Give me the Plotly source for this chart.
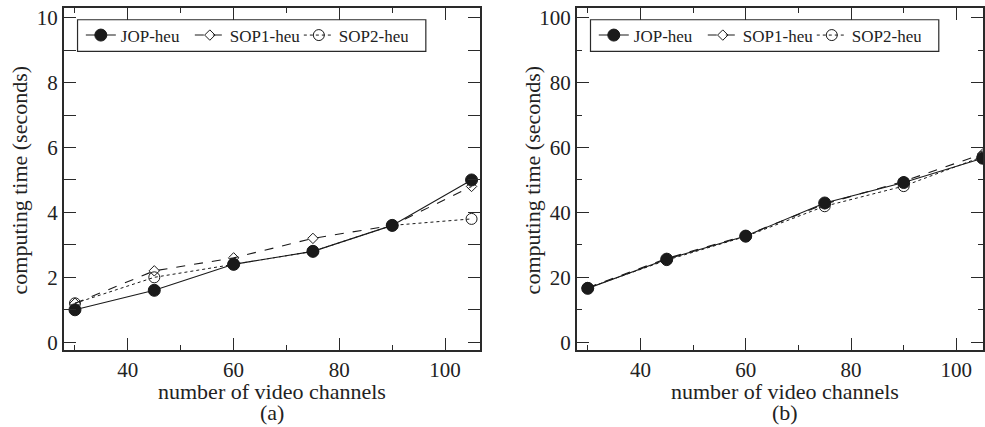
import plotly.graph_objects as go

channels = [30, 45, 60, 75, 90, 105]

# panel (a) computing time (seconds)
a_jop = [1.0, 1.6, 2.4, 2.8, 3.6, 5.0]
a_sop1 = [1.2, 2.2, 2.6, 3.2, 3.6, 4.8]
a_sop2 = [1.2, 2.0, 2.4, 2.8, 3.6, 3.8]

# panel (b)
b_jop = [16.6, 25.6, 32.7, 42.9, 49.2, 56.7]
b_sop1 = [16.8, 25.8, 32.9, 42.6, 49.6, 58.0]
b_sop2 = [16.7, 25.3, 32.6, 41.9, 48.1, 57.2]

series_names = ["JOP-heu", "SOP1-heu", "SOP2-heu"]

FONT = "Liberation Serif, Times New Roman, serif"
INK = "#1a1a1a"
FRAME = "#2a2a2a"
W, H = 985.0, 427.0

styles = [
    dict(line=dict(color=INK, width=1.1, dash="solid"),
         marker=dict(symbol="circle", size=12, color=INK, line=dict(color=INK, width=1))),
    dict(line=dict(color=INK, width=1.1, dash="dash"),
         marker=dict(symbol="diamond-open", size=8, color=INK, line=dict(color=INK, width=1))),
    dict(line=dict(color=INK, width=1.0, dash="dot"),
         marker=dict(symbol="circle-open", size=11, color=INK, line=dict(color=INK, width=1))),
]

fig = go.Figure()

for panel, data, xa, ya, lg in [
    ("a", [a_jop, a_sop1, a_sop2], "x", "y", "legend"),
    ("b", [b_jop, b_sop1, b_sop2], "x2", "y2", "legend2"),
]:
    for idx in [2, 1, 0]:
        fig.add_trace(go.Scatter(
            x=channels, y=data[idx], name=series_names[idx], mode="lines+markers",
            xaxis=xa, yaxis=ya, legend=lg, legendrank=idx + 1,
            line=styles[idx]["line"], marker=styles[idx]["marker"],
            cliponaxis=(panel == "b"),
        ))

y_dom = [(H - 353) / H, (H - 6) / H]

common_x = dict(
    showline=True, linecolor=FRAME, linewidth=1.6, mirror="ticks",
    ticks="inside", ticklen=12, tickwidth=1.2, tickcolor=FRAME,
    tick0=40, dtick=20, showgrid=False, zeroline=False,
    tickfont=dict(family=FONT, size=21, color="#222"),
    minor=dict(ticks="inside", ticklen=5, tickwidth=1.2, tickcolor=FRAME, tick0=30, dtick=10, showgrid=False),
)
common_y = dict(
    showline=True, linecolor=FRAME, linewidth=1.6, mirror="ticks",
    ticks="inside", ticklen=12, tickwidth=1.2, tickcolor=FRAME,
    showgrid=False, zeroline=False,
    tickfont=dict(family=FONT, size=21, color="#222"),
)

legend_common = dict(orientation="h", xanchor="left", yanchor="middle",
                     bgcolor="rgba(0,0,0,0)", borderwidth=0,
                     font=dict(family=FONT, size=17, color="#222"), traceorder="normal",
                     entrywidth=64, itemwidth=30)

fig.update_layout(
    width=985, height=427,
    margin=dict(l=0, r=0, t=0, b=0),
    paper_bgcolor="white", plot_bgcolor="white",
    showlegend=True,
    xaxis=dict(domain=[64 / W, 481 / W], range=[27.9, 106.6], anchor="y", **common_x),
    yaxis=dict(domain=y_dom, range=[-0.24, 10.3], anchor="x", tick0=0, dtick=2,
               minor=dict(ticks="inside", ticklen=12, tickwidth=1.2, tickcolor=FRAME, dtick=1, showgrid=False),
               **common_y),
    xaxis2=dict(domain=[578 / W, 1.0], range=[27.93, 105.06], anchor="y2", **common_x),
    yaxis2=dict(domain=y_dom, range=[-2.4, 103], anchor="x2", tick0=0, dtick=20,
                minor=dict(ticks="inside", ticklen=5, tickwidth=1.2, tickcolor=FRAME, dtick=10, showgrid=False),
                **common_y),
    legend=dict(x=81 / W, y=(H - 34) / H, **legend_common),
    legend2=dict(x=595 / W, y=(H - 34) / H, **legend_common),
)

# legend frames
for x0, x1 in [(77.7, 426.7), (591.7, 940.7)]:
    fig.add_shape(type="rect", xref="paper", yref="paper",
                  x0=x0 / W, x1=x1 / W, y0=(H - 50) / H, y1=(H - 18) / H,
                  line=dict(color=FRAME, width=1.2), fillcolor="white", layer="below")

ann_font = dict(family=FONT, size=22, color="#222")
for cx, label in [((64 + 481) / 2, "(a)"), ((578 + 995) / 2, "(b)")]:
    fig.add_annotation(x=cx / W, y=(H - 395) / H, xref="paper", yref="paper",
                       text="number of video channels", showarrow=False, font=ann_font,
                       xanchor="center", yanchor="middle")
    fig.add_annotation(x=cx / W, y=(H - 416) / H, xref="paper", yref="paper",
                       text=label, showarrow=False, font=ann_font,
                       xanchor="center", yanchor="middle")

for cx in [20, 534]:
    fig.add_annotation(x=cx / W, y=(H - 180) / H, xref="paper", yref="paper",
                       text="computing time (seconds)", showarrow=False, font=ann_font,
                       textangle=-90, xanchor="center", yanchor="middle")

fig.write_html("out.html", config={"displayModeBar": False},
               post_script="document.body.style.margin='0';document.body.style.overflow='hidden';")
